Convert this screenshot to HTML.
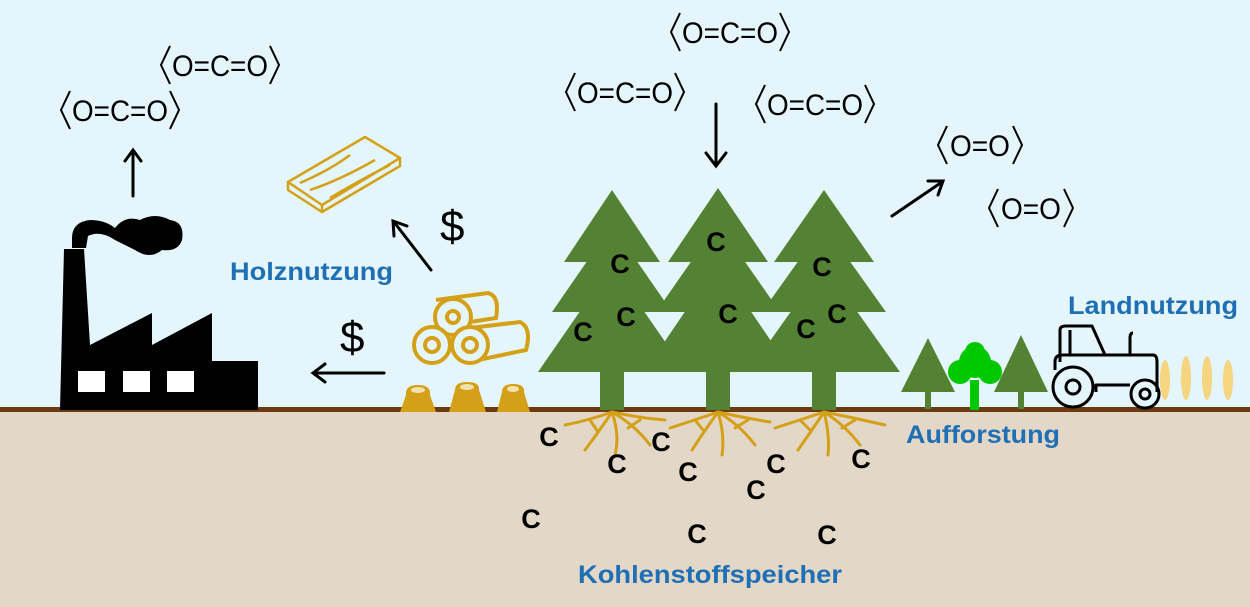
<!DOCTYPE html>
<html><head><meta charset="utf-8"><style>
html,body{margin:0;padding:0;width:1250px;height:607px;overflow:hidden;background:#e4f6fb}
svg{display:block}
.m{font-family:"Liberation Sans",sans-serif;font-size:30px;fill:#000}
.c{font-family:"Liberation Sans",sans-serif;font-weight:bold;font-size:27px;fill:#000}
.l{font-family:"Liberation Sans",sans-serif;font-weight:bold;font-size:25px;fill:#1f6fb5}
.d{font-family:"Liberation Sans",sans-serif;font-size:44px;fill:#000}
</style></head><body>
<svg width="1250" height="607" viewBox="0 0 1250 607" xmlns="http://www.w3.org/2000/svg">
<rect x="0" y="0" width="1250" height="410" fill="#e4f6fb"/>
<rect x="0" y="410" width="1250" height="197" fill="#e3d7c8"/>
<rect x="0" y="407" width="1250" height="5" fill="#6b3a10"/>

<g fill="none" stroke="#000" stroke-width="2">
<polyline points="70,91 61,110 70,129"/><polyline points="170,91 179,110 170,129"/>
<polyline points="170,46 161,65 170,84"/><polyline points="270,46 279,65 270,84"/>
<polyline points="575,73 566,92 575,111"/><polyline points="675,73 684,92 675,111"/>
<polyline points="680,13 671,32 680,51"/><polyline points="780,13 789,32 780,51"/>
<polyline points="765,85 756,104 765,123"/><polyline points="865,85 874,104 865,123"/>
<polyline points="947,126 938,145 947,164"/><polyline points="1013,126 1022,145 1013,164"/>
<polyline points="998,189 989,208 998,227"/><polyline points="1064,189 1073,208 1064,227"/>
</g>
<g class="m" text-anchor="middle">
<text x="120" y="121" textLength="96" lengthAdjust="spacingAndGlyphs">O=C=O</text>
<text x="220" y="76" textLength="96" lengthAdjust="spacingAndGlyphs">O=C=O</text>
<text x="625" y="103" textLength="96" lengthAdjust="spacingAndGlyphs">O=C=O</text>
<text x="730" y="43" textLength="96" lengthAdjust="spacingAndGlyphs">O=C=O</text>
<text x="815" y="115" textLength="96" lengthAdjust="spacingAndGlyphs">O=C=O</text>
<text x="980" y="156" textLength="60" lengthAdjust="spacingAndGlyphs">O=O</text>
<text x="1031" y="219" textLength="60" lengthAdjust="spacingAndGlyphs">O=O</text>
</g>

<g stroke="#000" stroke-width="3" fill="none" stroke-linecap="round">
<line x1="133" y1="196" x2="133" y2="152"/><polyline points="125,161 133,150 141,161"/>
<line x1="384" y1="373" x2="314" y2="373"/><polyline points="325,364 313,373 325,382"/>
<line x1="431" y1="270" x2="394" y2="222"/><polyline points="394,236 393,221 407,226"/>
<line x1="716" y1="104" x2="716" y2="165"/><polyline points="706,153 716,166 726,153"/>
<line x1="892" y1="216" x2="942" y2="182"/><polyline points="928,181 943,181 938,195"/>
</g>
<text class="d" x="440" y="241">$</text>
<text class="d" x="340" y="352">$</text>

<g fill="#000">
<path d="M60,410 L64,249 L84,249 L90,345 L152,313 L152,345 L212,313 L212,361 L258,361 L258,410 Z"/>
<path d="M72,248 L72,238 Q72,222 90,220 Q105,220 115,228 Q125,215 140,220 Q155,212 170,220 Q185,222 182,240 Q178,252 162,250 Q150,260 135,250 Q125,245 115,240 Q100,230 88,236 L86,248 Z"/>
</g>
<g fill="#fff"><rect x="78" y="371" width="27" height="21"/><rect x="123" y="371" width="27" height="21"/><rect x="167" y="371" width="27" height="21"/></g>

<g fill="none" stroke="#d4a017" stroke-width="2.5" stroke-linejoin="round">
<path d="M288,182 L365,137 L400,158 L322,205 Z"/>
<path d="M288,182 L288,190 L322,212 L400,166 L400,158"/><line x1="322" y1="205" x2="322" y2="212"/>
<path d="M300,183 Q330,170 350,155 M310,190 Q340,180 375,160 M330,198 Q360,180 390,165"/>
</g>

<g fill="none" stroke="#d4a017" stroke-width="4">
<path d="M436,300 L488,293 Q500,296 496,318 L470,322"/>
<path d="M470,328 L520,322 Q532,328 526,350 L478,360"/>
<circle cx="453" cy="317" r="18" fill="#e4f6fb"/><circle cx="453" cy="317" r="6"/>
<circle cx="432" cy="345" r="18" fill="#e4f6fb"/><circle cx="432" cy="345" r="7"/>
<circle cx="470" cy="345" r="18" fill="#e4f6fb"/><circle cx="470" cy="345" r="7"/>
</g>
<g fill="#d4a017">
<path d="M400,412 L406,395 Q405,385 418,385 Q431,385 430,395 L436,412 Z"/>
<path d="M449,412 L455,390 Q455,382 467,382 Q480,382 479,390 L486,412 Z"/>
<path d="M497,412 L502,392 Q502,384 513,384 Q525,384 524,392 L530,412 Z"/>
</g>
<g fill="#f2e2b0"><ellipse cx="418" cy="390" rx="7" ry="3"/><ellipse cx="467" cy="387" rx="7" ry="3"/><ellipse cx="513" cy="389" rx="6" ry="3"/></g>

<g fill="#548235">
<rect x="600" y="350" width="24" height="60"/>
<polygon points="612,190 660,262 564,262"/>
<polygon points="612,225 672,312 552,312"/>
<polygon points="612,265 686,372 538,372"/>
<rect x="706" y="350" width="24" height="60"/>
<polygon points="718,188 768,262 668,262"/>
<polygon points="718,223 780,312 656,312"/>
<polygon points="718,263 792,372 644,372"/>
<rect x="812" y="350" width="24" height="60"/>
<polygon points="824,190 874,262 774,262"/>
<polygon points="824,225 886,312 762,312"/>
<polygon points="824,265 900,372 748,372"/>
<rect x="925" y="385" width="6" height="24"/>
<polygon points="928,338 955,392 901,392"/>
<rect x="1018" y="385" width="6" height="24"/>
<polygon points="1021,335 1048,392 994,392"/>
</g>
<g fill="#00c800">
<rect x="970" y="380" width="9" height="30"/>
<circle cx="975" cy="362" r="16"/><circle cx="960" cy="372" r="12"/><circle cx="990" cy="372" r="12"/><circle cx="975" cy="352" r="10"/>
</g>

<g stroke="#d4a017" stroke-width="3" fill="none" stroke-linecap="round">
<path d="M612,412 Q590,420 565,425 M612,412 Q600,430 585,450 M612,412 Q620,435 615,455 M612,412 Q635,425 650,445 M612,412 Q640,418 665,420 M598,432 L590,420 M628,428 L640,420"/>
<path d="M718,412 Q695,420 670,428 M718,412 Q705,430 692,450 M718,412 Q725,435 722,455 M718,412 Q740,425 755,445 M718,412 Q745,418 770,422 M703,430 L695,420 M735,428 L748,420"/>
<path d="M824,412 Q800,420 775,428 M824,412 Q812,430 798,450 M824,412 Q830,435 828,455 M824,412 Q845,425 860,445 M824,412 Q855,418 885,425 M810,430 L800,420 M842,428 L855,420"/>
</g>

<g fill="none" stroke="#000" stroke-width="3" stroke-linejoin="round">
<path d="M1060,362 L1060,330 Q1060,326 1066,326 L1092,326 L1105,355"/>
<line x1="1070" y1="330" x2="1070" y2="355"/>
<path d="M1130,355 L1130,338 Q1130,333 1133,333"/>
<path d="M1055,370 L1055,362 Q1055,355 1062,355 L1153,355 Q1157,355 1157,362 L1157,392"/>
<circle cx="1073" cy="387" r="20"/><circle cx="1073" cy="387" r="7"/>
<circle cx="1145" cy="394" r="14"/><circle cx="1145" cy="394" r="5"/>
<path d="M1096,392 L1096,385 L1130,385"/>
</g>
<g fill="#f5d580">
<ellipse cx="1165" cy="380" rx="5" ry="20"/><ellipse cx="1186" cy="378" rx="5" ry="22"/><ellipse cx="1207" cy="378" rx="5" ry="22"/><ellipse cx="1228" cy="380" rx="5" ry="20"/>
</g>

<g class="c" text-anchor="middle">
<text x="620" y="273">C</text><text x="716" y="251">C</text><text x="583" y="341">C</text><text x="626" y="326">C</text>
<text x="728" y="323">C</text><text x="822" y="276">C</text><text x="806" y="338">C</text><text x="837" y="323">C</text>
<text x="549" y="446">C</text><text x="617" y="473">C</text><text x="661" y="451">C</text><text x="688" y="481">C</text>
<text x="756" y="499">C</text><text x="776" y="473">C</text><text x="861" y="468">C</text><text x="531" y="528">C</text>
<text x="697" y="543">C</text><text x="827" y="544">C</text>
</g>

<text class="l" x="230" y="280" textLength="163" lengthAdjust="spacingAndGlyphs">Holznutzung</text>
<text class="l" x="1068" y="314" textLength="170" lengthAdjust="spacingAndGlyphs">Landnutzung</text>
<text class="l" x="906" y="443" textLength="154" lengthAdjust="spacingAndGlyphs">Aufforstung</text>
<text class="l" x="578" y="583" textLength="264" lengthAdjust="spacingAndGlyphs">Kohlenstoffspeicher</text>
</svg>
</body></html>
